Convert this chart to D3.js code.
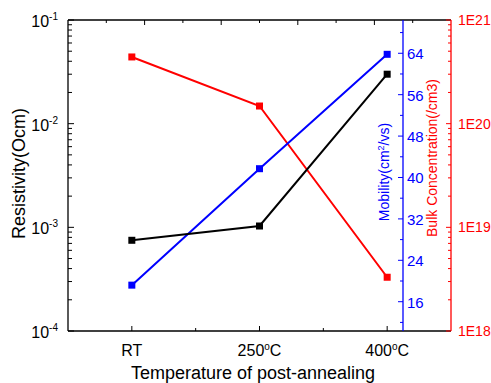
<!DOCTYPE html>
<html>
<head>
<meta charset="utf-8">
<script src="https://cdn.jsdelivr.net/npm/d3@7"></script>
<style>
body { margin: 0; background: #fff; }
text { font-family: "Liberation Sans", Arial, sans-serif; }
</style>
</head>
<body>
<div class="viz"></div>
<script>
var categories = ["RT", "250", "400"];
var resistivity = [7.5e-4, 1.03e-3, 0.030];
var mobility = [19.2, 41.7, 63.8];
var bulkConc = [4.4e20, 1.48e20, 3.3e18];

var w = 491;
var h = 383;
var pLeft = 68, pRight = 451, pTop = 20, pBottom = 331;
var blueX = 403;

var svg = d3.select(".viz")
    .append("svg")
    .attr("width", w)
    .attr("height", h);

var xScale = d3.scaleLinear().domain([-0.5, 2.5]).range([pLeft, pRight]);
var yRes = d3.scaleLog().domain([1e-4, 1e-1]).range([pBottom, pTop]);
var yMob = d3.scaleLinear().domain([10.34, 70.43]).range([pBottom, pTop]);
var yCon = d3.scaleLog().domain([1e18, 1e21]).range([pBottom, pTop]);

// log minor ticks helper
function logTicks(lo, hi) {
    var out = [];
    for (var e = lo; e < hi; e++) {
        for (var m = 1; m < 10; m++) out.push({v: m * Math.pow(10, e), major: m == 1});
    }
    out.push({v: Math.pow(10, hi), major: true});
    return out;
}

//// BOX LINES ////
svg.append("line").attr("x1", pLeft).attr("x2", pRight).attr("y1", pTop).attr("y2", pTop)
    .attr("stroke", "#000").attr("stroke-width", 1.3);
svg.append("line").attr("x1", pLeft).attr("x2", pRight).attr("y1", pBottom).attr("y2", pBottom)
    .attr("stroke", "#000").attr("stroke-width", 1.3);
svg.append("line").attr("x1", pLeft).attr("x2", pLeft).attr("y1", pTop).attr("y2", pBottom)
    .attr("stroke", "#000").attr("stroke-width", 1.3);

// bottom ticks
svg.selectAll(".bt").data([0, 0.5, 1, 1.5, 2]).enter().append("line")
    .attr("x1", function(d) { return xScale(d); })
    .attr("x2", function(d) { return xScale(d); })
    .attr("y1", pBottom).attr("y2", function(d) { return pBottom - (d % 1 == 0 ? 5 : 3); })
    .attr("stroke", "#000").attr("stroke-width", 1);

// top ticks
svg.selectAll(".tt").data(d3.range(-0.2, 2.45, 0.3)).enter().append("line")
    .attr("x1", function(d) { return xScale(d); })
    .attr("x2", function(d) { return xScale(d); })
    .attr("y1", pTop).attr("y2", function(d, i) { return pTop + (i % 2 == 0 ? 3 : 5); })
    .attr("stroke", "#000").attr("stroke-width", 1);

// x labels
var xlab = svg.selectAll(".xl").data(categories).enter().append("text")
    .attr("x", function(d, i) { return xScale(i); })
    .attr("y", 356)
    .attr("text-anchor", "middle")
    .attr("font-size", "16px")
    .attr("fill", "#000");
xlab.each(function(d) {
    var t = d3.select(this);
    if (d == "RT") { t.text("RT"); return; }
    t.append("tspan").text(d);
    t.append("tspan").attr("dy", -6).attr("font-size", "10px").text("o");
    t.append("tspan").attr("dy", 6).text("C");
});

svg.append("text")
    .attr("x", 253).attr("y", 379)
    .attr("text-anchor", "middle")
    .attr("font-size", "18px")
    .text("Temperature of post-annealing");

//// LEFT AXIS ////
svg.selectAll(".lt").data(logTicks(-4, -1)).enter().append("line")
    .attr("x1", pLeft).attr("x2", function(d) { return pLeft + (d.major ? 6 : 4); })
    .attr("y1", function(d) { return yRes(d.v); })
    .attr("y2", function(d) { return yRes(d.v); })
    .attr("stroke", "#000").attr("stroke-width", 1);

var ll = svg.selectAll(".ll").data([-4, -3, -2, -1]).enter().append("text")
    .attr("x", 58).attr("y", function(d) { return yRes(Math.pow(10, d)) + 7; })
    .attr("text-anchor", "end")
    .attr("font-size", "16px");
ll.append("tspan").text("10");
ll.append("tspan").attr("dy", -7).attr("font-size", "10px").text(function(d) { return d; });

svg.append("text")
    .attr("transform", "translate(25," + ((pTop + pBottom) / 2 - 2) + ") rotate(-90)")
    .attr("text-anchor", "middle")
    .attr("font-size", "18px")
    .text("Resistivity(Ocm)");

//// BLUE AXIS ////
svg.append("line").attr("x1", blueX).attr("x2", blueX).attr("y1", pTop).attr("y2", pBottom)
    .attr("stroke", "blue").attr("stroke-width", 1.3);
svg.selectAll(".mt").data(d3.range(12, 70, 4)).enter().append("line")
    .attr("x1", blueX).attr("x2", function(d) { return blueX - (d % 8 == 0 ? 5 : 3); })
    .attr("y1", function(d) { return yMob(d); })
    .attr("y2", function(d) { return yMob(d); })
    .attr("stroke", "blue").attr("stroke-width", 1);
svg.selectAll(".ml").data(d3.range(16, 65, 8)).enter().append("text")
    .attr("x", blueX + 4).attr("y", function(d) { return yMob(d) + 6; })
    .attr("font-size", "15px").attr("fill", "blue")
    .text(function(d) { return d; });

var mt = svg.append("text")
    .attr("transform", "translate(389,172) rotate(-90)")
    .attr("text-anchor", "middle")
    .attr("font-size", "14px")
    .attr("fill", "blue");
mt.append("tspan").text("Mobility(cm");
mt.append("tspan").attr("dy", -5).attr("font-size", "9px").text("2");
mt.append("tspan").attr("dy", 5).text("/vs)");

//// RED AXIS ////
svg.append("line").attr("x1", pRight).attr("x2", pRight).attr("y1", pTop).attr("y2", pBottom)
    .attr("stroke", "red").attr("stroke-width", 1.3);
svg.selectAll(".rt").data(logTicks(18, 21)).enter().append("line")
    .attr("x1", pRight).attr("x2", function(d) { return pRight - (d.major ? 5 : 3); })
    .attr("y1", function(d) { return yCon(d.v); })
    .attr("y2", function(d) { return yCon(d.v); })
    .attr("stroke", "red").attr("stroke-width", 1);
svg.selectAll(".rl").data([18, 19, 20, 21]).enter().append("text")
    .attr("x", pRight + 7).attr("y", function(d) { return yCon(Math.pow(10, d)) + 5; })
    .attr("font-size", "14px").attr("fill", "red")
    .text(function(d) { return "1E" + d; });

svg.append("text")
    .attr("transform", "translate(437,158) rotate(-90)")
    .attr("text-anchor", "middle")
    .attr("font-size", "14px")
    .attr("fill", "red")
    .text("Bulk Concentration(/cm3)");

//// SERIES ////
function drawSeries(data, yScale, color) {
    var line = d3.line()
        .x(function(d, i) { return xScale(i); })
        .y(function(d) { return yScale(d); });
    svg.append("path").datum(data)
        .attr("d", line)
        .attr("fill", "none")
        .attr("stroke", color)
        .attr("stroke-width", 2);
    svg.selectAll(null).data(data).enter().append("rect")
        .attr("x", function(d, i) { return xScale(i) - 3.5; })
        .attr("y", function(d) { return yScale(d) - 3.5; })
        .attr("width", 7).attr("height", 7)
        .attr("fill", color);
}
drawSeries(bulkConc, yCon, "red");
drawSeries(mobility, yMob, "blue");
drawSeries(resistivity, yRes, "black");
</script>
</body>
</html>
